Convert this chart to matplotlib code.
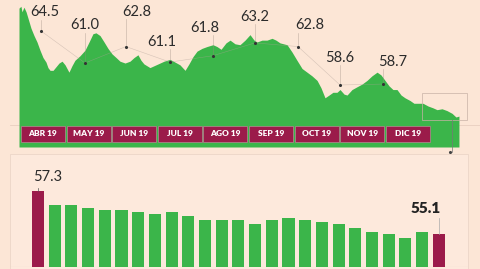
import matplotlib

matplotlib.use("Agg")
import matplotlib.pyplot as plt
from matplotlib.patches import Rectangle
import matplotlib.transforms as mtransforms

BG = "#fce6d6"
PANEL = "#fde9dc"
GREEN = "#3bb54a"
MAROON = "#9b1b4a"
TEXT = "#2b2b2b"

# daily index (approx. days since 1 Apr 2019) and value
days = [0, 1.3, 2, 3.3, 4.7, 6, 8, 10, 12, 14, 16, 18, 19.3, 20.7, 22.7, 24.7, 26.7,
        28.7, 30.7, 33.3, 35.3, 37.3, 40.7, 44, 46.7, 49.3, 51.3, 54, 56.7, 59.3, 62,
        64.7, 67.3, 70.7, 74, 76.7, 79.3, 81.3, 83.3, 87.3, 90, 92.7, 96.7, 100.7, 104,
        107.3, 110.7, 113.3, 116, 118.7, 122, 125.3, 129.3, 132, 134.7, 138, 140.7, 144,
        147.3, 150.7, 154, 156.7, 158.7, 162, 165.3, 168.7, 171.3, 174, 178.7, 182,
        185.3, 188.7, 192, 195.3, 198.7, 201.3, 204, 206.7, 209.3, 212, 214, 216.7,
        218.7, 222, 225.3, 228.7, 232, 235.3, 238.7, 241.3, 244, 246.7, 249.3, 252,
        254.7, 257.3, 260.7, 263.3, 266, 269.3, 272.7, 276, 278.7, 282, 285.3, 288.7,
        291.3, 293.3]
daily = [67.0, 67.2, 66.6, 67.1, 66.6, 65.9, 64.8, 64.0, 63.3, 62.4, 61.6, 61.1, 60.5,
         60.2, 60.2, 60.6, 61.0, 61.2, 60.8, 60.0, 60.7, 61.3, 61.8, 62.4, 63.3, 64.2,
         64.3, 64.0, 63.3, 62.6, 62.0, 61.6, 61.2, 61.0, 61.2, 61.6, 61.9, 61.3, 60.9,
         60.5, 60.7, 60.9, 61.2, 61.4, 61.1, 60.8, 60.2, 60.9, 61.7, 62.3, 62.6, 62.8,
         63.0, 62.8, 62.5, 63.2, 63.5, 63.1, 63.0, 63.5, 64.1, 63.5, 63.3, 63.5, 63.5,
         63.7, 63.5, 63.2, 63.0, 62.2, 61.3, 60.4, 60.0, 59.6, 59.1, 58.3, 57.2, 57.5,
         57.8, 57.8, 58.1, 57.6, 57.5, 58.1, 58.4, 58.7, 59.1, 59.6, 60.0, 59.7, 59.1,
         58.5, 58.1, 58.1, 57.5, 57.2, 56.9, 56.6, 56.6, 56.6, 56.3, 56.1, 55.9, 56.0,
         55.8, 55.5, 55.1, 55.2]

# monthly averages (mid-month positions)
avg_days = [14.7, 44, 71.3, 100.7, 129.3, 157.3, 186, 214, 242.7]
avg_vals = [64.5, 61.0, 62.8, 61.1, 61.8, 63.2, 62.8, 58.6, 58.7]
label_pos = [(17.3, 66.6), (44, 65.2), (78.7, 66.6), (95.3, 63.3), (124, 64.8),
             (157.3, 66.0), (194, 65.2), (214, 61.6), (249.3, 61.1)]
leader_top = [65.7, 64.3, 65.8, 62.5, 64.1, 65.3, 64.3, 60.8, 60.3]

months = ["ABR 19", "MAY 19", "JUN 19", "JUL 19", "AGO 19", "SEP 19", "OCT 19",
          "NOV 19", "DIC 19"]

# last 25 readings (bottom panel)
recent = [57.3, 56.6, 56.6, 56.4, 56.3, 56.3, 56.2, 56.1, 56.2, 56.0, 55.8, 55.8, 55.8,
          55.6, 55.8, 55.9, 55.8, 55.7, 55.6, 55.4, 55.2, 55.1, 54.9, 55.2, 55.1]

W, H = 480, 269


def frac(x0, y0, x1, y1):
    return [x0 / W, 1 - y1 / H, (x1 - x0) / W, (y1 - y0) / H]


fig = plt.figure(figsize=(4.8, 2.69), dpi=100, facecolor=BG)
plt.rcParams["font.family"] = ["Lato", "DejaVu Sans"]

# ---- top area chart ----
ax = fig.add_axes(frac(19, 0, 480, 147))
ax.set_facecolor("none")
ymin = 51.822
ax.set_xlim(0, 307.33)
ax.set_ylim(ymin, 67.888)
ax.axis("off")
ax.plot([-6, 307], [54.23, 54.23], color="#e8cfc0", lw=0.6, clip_on=False, zorder=0)
ax.fill_between(days, daily, ymin, color=GREEN, lw=0, zorder=1)

ax.plot(avg_days, avg_vals, color="#b0a098", lw=0.4, alpha=0.5, zorder=3)
ax.scatter(avg_days, avg_vals, s=1.5, color="#333333", zorder=4)
for d, v, (lx, ly), lt in zip(avg_days, avg_vals, label_pos, leader_top):
    ax.plot([d, d], [v, lt], color="#9a8a80", lw=0.4, alpha=0.6, zorder=3)
    ax.text(lx, ly, f"{v:.1f}", ha="center", va="center", fontsize=10.5,
            color=TEXT, zorder=5)

# highlight box on the last stretch + connector down to the bar panel
ax.add_patch(Rectangle((268.7, 54.77), 30, 2.95, fill=False, ec="#c8b2a6", lw=0.5,
                       clip_on=False, zorder=4))
ax.plot([288.7, 288.7], [54.77, 51.28], color="#777777", lw=0.5, clip_on=False, zorder=4)
ax.scatter([287.5], [51.28], s=1.5, color="#444444", clip_on=False, zorder=4)

# month boxes
trans = mtransforms.blended_transform_factory(ax.transData, ax.transAxes)
month_len = 30.4
for i, m in enumerate(months):
    x0 = 1.33 + i * month_len
    ax.add_patch(Rectangle((x0, 0.034), 29.3, 0.109, transform=trans, fc=MAROON,
                           ec="#b58a92", lw=0.5, zorder=5))
    ax.text(x0 + 14.65, 0.0885, m, transform=trans, ha="center", va="center",
            fontsize=6, color="white", fontweight="heavy", zorder=6)

# ---- bottom bar panel ----
fig.add_artist(Rectangle((10 / W, 0), 458 / W, 115 / H, transform=fig.transFigure,
                         fc=PANEL, ec="#ecd6c8", lw=0.6, zorder=0))
bx = fig.add_axes(frac(10, 154, 468, 266.7))
bx.set_facecolor("none")
idx = list(range(len(recent)))
colors = [MAROON if i in (0, len(recent) - 1) else GREEN for i in idx]
bx.bar(idx, recent, width=0.72, color=colors, zorder=2)
bx.set_xlim(-1.677, 25.749)
bx.set_ylim(53.4, 59.207)
bx.axhline(53.4, color="#e3cbbd", lw=0.8, zorder=1)
bx.axis("off")

bx.plot([0, 0], [recent[0], recent[0] + 0.15], color="#555555", lw=0.5)
bx.text(0.55, 58.02, f"{recent[0]:.1f}", ha="center", va="center", fontsize=10.5,
        color=TEXT)
bx.plot([24, 24], [recent[-1], recent[-1] + 0.8], color="#aaaaaa", lw=0.5)
bx.text(23.2, 56.42, f"{recent[-1]:.1f}", ha="center", va="center", fontsize=11,
        color="#222222", fontweight="heavy")

fig.savefig("out.png", dpi=100, facecolor=BG)
